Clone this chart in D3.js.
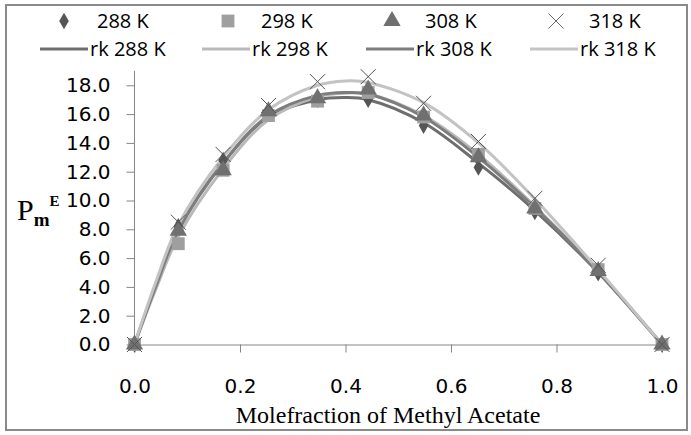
<!DOCTYPE html>
<html>
<head>
<meta charset="utf-8">
<script src="https://cdn.jsdelivr.net/npm/d3@7"></script>
<style>
  body { margin: 0; background: #fff; }
  svg { display: block; }
</style>
</head>
<body>
<svg id="chart"></svg>
<script>
// measured points (mole fraction of methyl acetate)
const xPoints = [0, 0.083, 0.168, 0.254, 0.347, 0.443, 0.548, 0.652, 0.759, 0.879, 1.0];
const p288 = [0, 8.2, 12.8, 16.1, 17.0, 17.0, 15.2, 12.3, 9.2, 4.95, 0];
const p298 = [0, 7.0, 12.1, 15.9, 16.9, 17.5, 15.8, 13.2, 9.45, 5.2, 0];
const p308 = [0, 7.9, 12.1, 16.2, 17.1, 17.7, 15.9, 13.0, 9.45, 5.1, 0];
const p318 = [0, 8.5, 13.2, 16.6, 18.25, 18.6, 16.75, 14.1, 10.15, 5.5, 0];

// Redlich-Kister fitted curves
const xCurve = [0, 0.04, 0.083, 0.168, 0.254, 0.347, 0.4, 0.443, 0.548, 0.652, 0.759, 0.879, 1.0];
const rk288 = [0, 4.1, 8.0, 12.6, 15.8, 17.0, 17.15, 17.0, 15.4, 12.6, 9.3, 5.0, 0];
const rk298 = [0, 3.8, 7.5, 12.2, 15.6, 17.2, 17.45, 17.4, 15.9, 13.2, 9.6, 5.1, 0];
const rk308 = [0, 4.0, 7.9, 12.6, 15.9, 17.3, 17.5, 17.4, 15.8, 13.0, 9.5, 5.05, 0];
const rk318 = [0, 4.3, 8.3, 13.0, 16.3, 18.0, 18.3, 18.2, 16.8, 14.0, 10.1, 5.2, 0];

const xTicks = [0, 0.2, 0.4, 0.6, 0.8, 1.0];
const yTicks = [0, 2, 4, 6, 8, 10, 12, 14, 16, 18];

const W = 691, H = 435;

const svg = d3.select('#chart')
  .attr('width', W)
  .attr('height', H);

// outer frame
svg.append('rect')
  .attr('x', 6).attr('y', 5)
  .attr('width', W - 10).attr('height', H - 10)
  .attr('fill', 'none')
  .attr('stroke', '#8a8a8a')
  .attr('stroke-width', 2);

const x = d3.scaleLinear().domain([0, 1]).range([134.5, 662]);
const y = d3.scaleLinear().domain([0, 19]).range([344.5, 70.9]);

const axisColor = '#868686';
const tickFont = '"DejaVu Sans", sans-serif';

// y axis
const yAxis = svg.append('g')
  .attr('transform', `translate(${x(0)},0)`)
  .call(d3.axisLeft(y).tickValues(yTicks).tickFormat(d3.format('.1f')).tickSize(8).tickSizeOuter(0).tickPadding(16));
yAxis.select('.domain').attr('stroke', axisColor).attr('d', `M0,${y(0)}V${y(19)}`);
yAxis.selectAll('line').attr('stroke', axisColor);
yAxis.selectAll('text')
  .style('font-family', tickFont)
  .style('font-size', '20px')
  .attr('fill', '#000');

// x axis
const xAxis = svg.append('g')
  .attr('transform', `translate(0,${y(0)})`)
  .call(d3.axisBottom(x).tickValues(xTicks).tickFormat(d3.format('.1f')).tickSize(8).tickSizeOuter(0).tickPadding(26));
xAxis.select('.domain').attr('stroke', axisColor);
xAxis.selectAll('line').attr('stroke', axisColor);
xAxis.selectAll('text')
  .style('font-family', tickFont)
  .style('font-size', '20px')
  .attr('fill', '#000');

// axis titles
svg.append('text')
  .attr('x', 388)
  .attr('y', 423)
  .attr('text-anchor', 'middle')
  .style('font-family', '"Liberation Serif", serif')
  .style('font-size', '24px')
  .text('Molefraction of Methyl Acetate');

const yTitle = svg.append('text')
  .attr('x', 17)
  .attr('y', 220)
  .style('font-family', '"Liberation Serif", serif')
  .style('font-size', '30px');
yTitle.append('tspan').text('P');
yTitle.append('tspan').attr('dy', 6).style('font-size', '19px').style('font-weight', 'bold').text('m');
yTitle.append('tspan').attr('dy', -20).style('font-size', '15px').style('font-weight', 'bold').text('E');

// fitted curves
const curves = [
  {name: 'rk 288 K', vals: rk288, color: '#6e6e6e'},
  {name: 'rk 298 K', vals: rk298, color: '#b9b9b9'},
  {name: 'rk 308 K', vals: rk308, color: '#7d7d7d'},
  {name: 'rk 318 K', vals: rk318, color: '#c3c3c3'}
];

const line = d3.line()
  .x((d, i) => x(xCurve[i]))
  .y(d => y(d))
  .curve(d3.curveCatmullRom.alpha(0.5));

svg.selectAll('.rk')
  .data(curves)
  .enter()
  .append('path')
  .attr('class', 'rk')
  .attr('fill', 'none')
  .attr('stroke', d => d.color)
  .attr('stroke-width', 3)
  .attr('d', d => line(d.vals));

// markers
const series = [
  {name: '288 K', vals: p288, shape: d3.symbolDiamond, size: 80, color: '#555555'},
  {name: '298 K', vals: p298, shape: d3.symbolSquare, size: 165, color: '#9f9f9f'},
  {name: '308 K', vals: p308, shape: d3.symbolTriangle, size: 130, color: '#707070'},
  {name: '318 K', vals: p318, shape: d3.symbolX, size: 150, color: '#555555'}
];

series.forEach(s => {
  svg.selectAll(null)
    .data(s.vals)
    .enter()
    .append('path')
    .attr('transform', (d, i) => `translate(${x(xPoints[i])},${y(d)})`)
    .attr('d', d3.symbol().type(s.shape).size(s.size))
    .attr('fill', s.shape === d3.symbolX ? 'none' : s.color)
    .attr('stroke', s.shape === d3.symbolX ? s.color : 'none')
    .attr('stroke-width', 1);
});

// legend
const legFont = '"Open Sans", sans-serif';
const row1 = [64, 228, 392, 556];
series.forEach((s, i) => {
  svg.append('path')
    .attr('transform', `translate(${row1[i]},21)`)
    .attr('d', d3.symbol().type(s.shape).size(s.size))
    .attr('fill', s.shape === d3.symbolX ? 'none' : s.color)
    .attr('stroke', s.shape === d3.symbolX ? '#666' : 'none');
  svg.append('text')
    .attr('x', row1[i] + 33)
    .attr('y', 28)
    .style('font-family', legFont)
    .style('font-size', '20px')
    .text(s.name);
});

const row2 = [40, 202, 366, 530];
curves.forEach((c, i) => {
  svg.append('line')
    .attr('x1', row2[i]).attr('x2', row2[i] + 48)
    .attr('y1', 49).attr('y2', 49)
    .attr('stroke', c.color)
    .attr('stroke-width', 3);
  svg.append('text')
    .attr('x', row2[i] + 50)
    .attr('y', 56)
    .style('font-family', legFont)
    .style('font-size', '20px')
    .text(c.name);
});
</script>
</body>
</html>
